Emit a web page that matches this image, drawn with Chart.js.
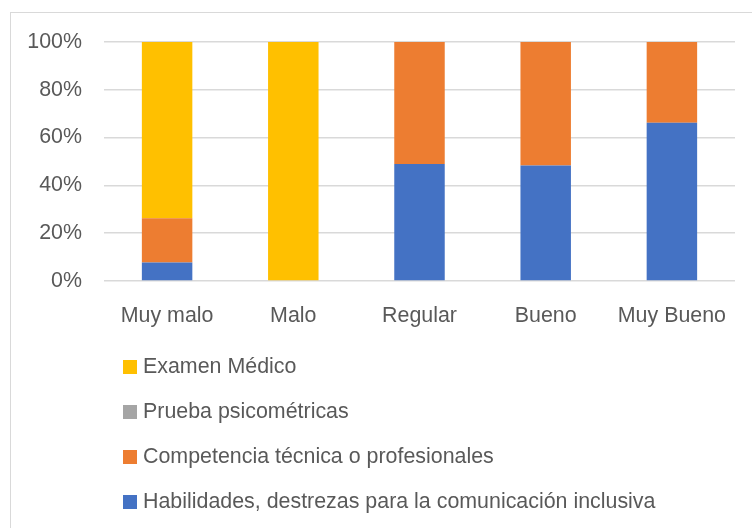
<!DOCTYPE html>
<html>
<head>
<meta charset="utf-8">
<script src="https://cdn.jsdelivr.net/npm/chart.js@4.4.0/dist/chart.umd.min.js"></script>
<style>
  body { margin: 0; background: #fff; }
  #wrap { position: relative; width: 752px; height: 528px; overflow: hidden; }
  #frame { position: absolute; left: 10px; top: 12px; width: 800px; height: 600px; border: 1.5px solid #d9d9d9; }
  #chart { position: absolute; left: 0; top: 0; }
  #legend { position: absolute; left: 123px; top: 344px; margin: 0; padding: 0; list-style: none;
            font-family: "Liberation Sans", Arial, sans-serif; font-size: 21.4px; color: #595959; }
  #legend li { height: 45px; line-height: 45px; white-space: nowrap; }
  #legend span { display: inline-block; width: 14px; height: 14px; margin-right: 6px; vertical-align: -1px; }
</style>
</head>
<body>
<div id="wrap">
  <div id="frame"></div>
  <canvas id="chart" width="752" height="528"></canvas>
  <ul id="legend"></ul>
</div>
<script>
var categories = ['Muy malo', 'Malo', 'Regular', 'Bueno', 'Muy Bueno'];
var habilidades = [7.7, 0, 49.0, 48.3, 66.2];
var competencia = [18.6, 0, 51.0, 51.7, 33.8];
var psicometricas = [0, 0, 0, 0, 0];
var examenMedico = [73.7, 100, 0, 0, 0];
var yTicks = [0, 20, 40, 60, 80, 100];

var tickFont = { family: '"Liberation Sans", Arial, sans-serif', size: 21.4 };

var ctx = document.getElementById('chart');
var chart = new Chart(ctx, {
  type: 'bar',
  data: {
    labels: categories,
    datasets: [
      { label: 'Habilidades, destrezas para la comunicación inclusiva', data: habilidades, backgroundColor: '#4472C4' },
      { label: 'Competencia técnica o profesionales', data: competencia, backgroundColor: '#ED7D31' },
      { label: 'Prueba psicométricas', data: psicometricas, backgroundColor: '#A5A5A5' },
      { label: 'Examen Médico', data: examenMedico, backgroundColor: '#FFC000' }
    ]
  },
  options: {
    responsive: false,
    animation: false,
    layout: { padding: { top: 42, right: 17, bottom: 0, left: 0 } },
    datasets: { bar: { barPercentage: 0.4, categoryPercentage: 1 } },
    plugins: { legend: { display: false }, tooltip: { enabled: false } },
    scales: {
      x: {
        stacked: true,
        grid: { display: false },
        border: { display: false },
        ticks: { color: '#595959', font: tickFont, padding: 14, maxRotation: 0 },
        afterFit: function(s) { s.height = 247; }
      },
      y: {
        stacked: true,
        min: 0,
        max: 100,
        afterBuildTicks: function(s) { s.ticks = yTicks.map(function(v) { return { value: v }; }); },
        grid: { color: '#d9d9d9', lineWidth: 1.5, drawTicks: false },
        border: { display: false },
        ticks: { color: '#595959', font: tickFont, padding: 22, callback: function(v) { return v + '%'; } },
        afterFit: function(s) { s.width = 104; }
      }
    }
  }
});

// legend listed top to bottom in reverse stacking order
var legend = document.getElementById('legend');
chart.data.datasets.slice().reverse().forEach(function(ds) {
  var li = document.createElement('li');
  var box = document.createElement('span');
  box.style.background = ds.backgroundColor;
  li.appendChild(box);
  li.appendChild(document.createTextNode(ds.label));
  legend.appendChild(li);
});
</script>
</body>
</html>
